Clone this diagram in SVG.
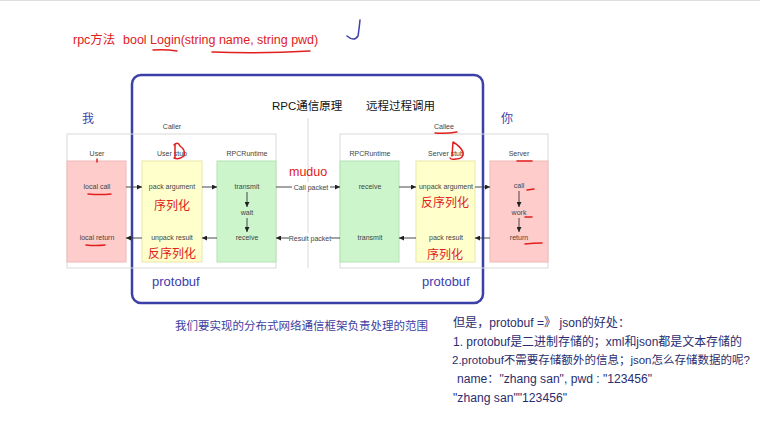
<svg xmlns="http://www.w3.org/2000/svg" width="760" height="440" viewBox="0 0 760 440">
<defs>
<marker id="ah" viewBox="0 0 6 6" refX="6" refY="3" markerWidth="5" markerHeight="5" orient="auto" markerUnits="userSpaceOnUse">
<path d="M0,0 L6,3 L0,6 Z" fill="#222"/>
</marker>
<style>
text{font-family:"Liberation Sans","Noto Sans CJK SC",sans-serif}
.sm{font-size:7px;fill:#444;text-anchor:middle}
.frame{fill:none;stroke:#d9d9d9;stroke-width:1}
.pink{fill:#ffcccc;stroke:#f0b8b8;stroke-width:1}
.yel{fill:#ffffcc;stroke:#e8e8a8;stroke-width:1}
.grn{fill:#ccf5cc;stroke:#b4e2b4;stroke-width:1}
.ar{stroke:#333;stroke-width:0.9;fill:none;marker-end:url(#ah)}
.red{fill:#e0201c}
.rl{stroke:#e0201c;stroke-width:1.5;fill:none;stroke-linecap:round}
.blue{fill:#3c3cae}
.note{font-size:12px;fill:#2b2d6e}
.note2{font-size:11px;fill:#2b2d6e}
.cjk{font-family:"Noto Sans CJK SC",sans-serif}
</style>
</defs>
<rect width="760" height="440" fill="#fff"/>
<line x1="0" y1="0.5" x2="760" y2="0.5" stroke="#ddd"/>

<!-- top annotation -->
<g id="title-note">
<text x="73" y="44" class="red" font-size="12.5">rpc方法</text>
<text x="123" y="44" class="red" font-size="12.5">bool Login(string name, string pwd)</text>
<path class="rl" d="M153,50 Q165,49 177,51"/>
<path class="rl" d="M212,52 Q260,54 310,51"/>
<path d="M360,20 Q359,30 358,36 Q354,42 347,36" stroke="#3c3cae" stroke-width="1.5" fill="none" stroke-linecap="round"/>
</g>

<!-- big blue frame -->
<rect x="132" y="75" width="351" height="228" rx="9" fill="none" stroke="#3b3fa8" stroke-width="2.5"/>

<text x="272" y="110" font-size="11.5" fill="#111">RPC通信原理</text>
<text x="366" y="110" font-size="11.5" fill="#111" class="cjk">远程过程调用</text>
<text x="82" y="123" font-size="12" class="blue cjk">我</text>
<text x="501" y="123" font-size="12" class="blue cjk">你</text>

<!-- frames -->
<g id="caller">
<rect class="frame" x="67" y="134" width="209" height="134"/>
<text class="sm" x="172" y="129">Caller</text>
</g>
<g id="callee">
<rect class="frame" x="340" y="134" width="208" height="134"/>
<text class="sm" x="444" y="129">Callee</text>
</g>
<line x1="308" y1="118" x2="308" y2="268" stroke="#d9d9d9"/>

<!-- nodes -->
<g id="user">
<text class="sm" x="97" y="156">User</text>
<rect class="pink" x="67" y="161" width="59" height="101"/>
<text class="sm" x="97" y="189">local call</text>
<text class="sm" x="97" y="240">local return</text>
</g>
<g id="user-stub">
<text class="sm" x="172" y="156">User stub</text>
<rect class="yel" x="142" y="161" width="60" height="101"/>
<text class="sm" x="172" y="189">pack argument</text>
<text class="sm" x="172" y="240">unpack result</text>
<text x="172" y="210" font-size="12" class="red cjk" text-anchor="middle">序列化</text>
<text x="172" y="258" font-size="12" class="red cjk" text-anchor="middle">反序列化</text>
</g>
<g id="caller-runtime">
<text class="sm" x="247" y="156">RPCRuntime</text>
<rect class="grn" x="217" y="161" width="59" height="101"/>
<text class="sm" x="247" y="189">transmit</text>
<text class="sm" x="247" y="215">wait</text>
<text class="sm" x="247" y="240">receive</text>
</g>
<g id="callee-runtime">
<text class="sm" x="370" y="156">RPCRuntime</text>
<rect class="grn" x="340" y="161" width="59" height="101"/>
<text class="sm" x="370" y="189">receive</text>
<text class="sm" x="370" y="240">transmit</text>
</g>
<g id="server-stub">
<text class="sm" x="446" y="156">Server stub</text>
<rect class="yel" x="416" y="161" width="59" height="101"/>
<text class="sm" x="446" y="189">unpack argument</text>
<text class="sm" x="446" y="240">pack result</text>
<text x="445" y="207" font-size="12" class="red cjk" text-anchor="middle">反序列化</text>
<text x="445" y="259" font-size="12" class="red cjk" text-anchor="middle">序列化</text>
</g>
<g id="server">
<text class="sm" x="519" y="156">Server</text>
<rect class="pink" x="490" y="161" width="58" height="101"/>
<text class="sm" x="519" y="188">call</text>
<text class="sm" x="519" y="215">work</text>
<text class="sm" x="519" y="240">return</text>
</g>

<!-- connectors -->
<g id="connectors">
<line class="ar" x1="126" y1="187" x2="142" y2="187"/>
<line class="ar" x1="202" y1="187" x2="217" y2="187"/>
<line class="ar" x1="276" y1="187" x2="340" y2="187"/>
<line class="ar" x1="399" y1="187" x2="416" y2="187"/>
<line class="ar" x1="475" y1="187" x2="490" y2="187"/>
<line class="ar" x1="490" y1="238" x2="475" y2="238"/>
<line class="ar" x1="416" y1="238" x2="399" y2="238"/>
<line class="ar" x1="340" y1="238" x2="276" y2="238"/>
<line class="ar" x1="217" y1="238" x2="202" y2="238"/>
<line class="ar" x1="142" y1="238" x2="126" y2="238"/>
<line class="ar" x1="247" y1="192" x2="247" y2="207"/>
<line class="ar" x1="247" y1="218" x2="247" y2="232"/>
<line class="ar" x1="519" y1="191" x2="519" y2="207"/>
<line class="ar" x1="519" y1="218" x2="519" y2="232"/>
<rect x="292" y="182" width="38" height="9" fill="#fff"/>
<text class="sm" x="311" y="189.5">Call packet</text>
<rect x="289" y="233" width="42" height="9" fill="#fff"/>
<text class="sm" x="310" y="240.5">Result packet</text>
</g>

<text x="289" y="176" font-size="12.5" class="red">muduo</text>
<text x="152" y="286" font-size="13" class="blue">protobuf</text>
<text x="422" y="286" font-size="13" class="blue">protobuf</text>

<!-- red hand marks -->
<g id="red-marks">
<path class="rl" d="M97,159 L97,162"/>
<path class="rl" d="M174,145 Q178,141 180,146 Q186,150 184,156 Q179,160 174,158 M175,144 L175,158"/>
<path class="rl" d="M88,194 Q100,195 111,194"/>
<path class="rl" d="M86,245 Q96,246 105,245"/>
<path class="rl" d="M435,133 Q446,134 457,132"/>
<path class="rl" d="M453,142 Q460,146 463,152 Q464,159 456,159 Q451,160 450,158 M453,142 L452,156"/>
<path class="rl" d="M517,161 L532,161"/>
<path class="rl" d="M527,190 L534,189"/>
<path class="rl" d="M525,217 L532,217"/>
<path class="rl" d="M525,244 Q534,243 542,243"/>
</g>

<!-- bottom texts -->
<text x="175" y="330" font-size="11.5" fill="#3d3d9e" class="cjk">我们要实现的分布式网络通信框架负责处理的范围</text>
<g id="notes">
<text class="note" x="453" y="327" textLength="177" lengthAdjust="spacingAndGlyphs">但是，protobuf =》 json的好处：</text>
<text class="note" x="453" y="346" textLength="289" lengthAdjust="spacingAndGlyphs">1. protobuf是二进制存储的；xml和json都是文本存储的</text>
<text class="note2" x="452" y="364" textLength="298" lengthAdjust="spacingAndGlyphs">2.protobuf不需要存储额外的信息；json怎么存储数据的呢?</text>
<text class="note" x="457" y="383" textLength="195" lengthAdjust="spacingAndGlyphs">name："zhang san", pwd : "123456"</text>
<text class="note" x="453" y="402" textLength="114" lengthAdjust="spacingAndGlyphs">"zhang san""123456"</text>
</g>
</svg>
